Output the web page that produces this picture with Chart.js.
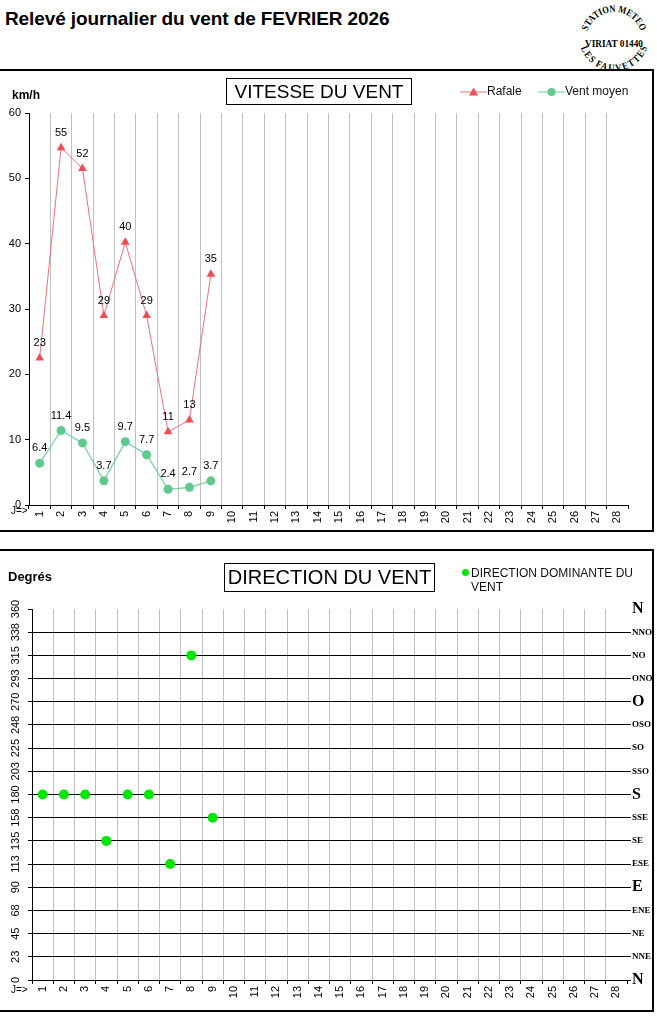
<!DOCTYPE html>
<html>
<head>
<meta charset="utf-8">
<script src="https://cdn.jsdelivr.net/npm/chart.js@4.4.1/dist/chart.umd.min.js"></script>
<style>
  html, body { margin: 0; padding: 0; background: #fff; }
  body { width: 657px; height: 1018px; position: relative; overflow: hidden; font-family: "Liberation Sans", Arial, sans-serif; }
  .abs { position: absolute; }
  .frame { position: absolute; border: 2px solid #000; box-sizing: border-box; }
  .tbox { position: absolute; border: 1px solid #000; box-sizing: border-box; text-align: center; color: #000; white-space: nowrap; }
  canvas { position: absolute; }
  .leg { position: absolute; font-size: 12px; color: #111; white-space: nowrap; }
</style>
</head>
<body>
<div class="abs" style="left:5px;top:8px;font-size:19px;font-weight:bold;letter-spacing:-0.1px;">Relevé journalier du vent de FEVRIER 2026</div>

<svg class="abs" style="left:570px;top:0px" width="87" height="80" viewBox="570 0 87 80">
  <defs>
    <path id="arcTop" d="M 586 40 A 28 28 0 0 1 642 40"/>
    <path id="arcBot" d="M 586 36 A 28 28 0 0 0 642 36"/>
  </defs>
  <text font-family="Liberation Serif" font-weight="bold" font-size="10" fill="#000">
    <textPath href="#arcTop" startOffset="50%" text-anchor="middle" textLength="70" lengthAdjust="spacingAndGlyphs">STATION METEO</textPath>
  </text>
  <text x="614" y="47" font-family="Liberation Serif" font-weight="bold" font-size="10" text-anchor="middle" textLength="58" lengthAdjust="spacingAndGlyphs" fill="#000">VIRIAT 01440</text>
  <text font-family="Liberation Serif" font-weight="bold" font-size="10" fill="#000">
    <textPath href="#arcBot" startOffset="50%" text-anchor="middle" dominant-baseline="hanging" textLength="70" lengthAdjust="spacingAndGlyphs">LES FAUVETTES</textPath>
  </text>
</svg>

<div class="frame" style="left:-2px;top:69px;width:656px;height:463px;"></div>
<div class="frame" style="left:-2px;top:549px;width:656px;height:463px;"></div>

<canvas id="speed" width="651" height="458" style="left:0;top:72px;"></canvas>
<canvas id="dir" width="657" height="457" style="left:0;top:552px;"></canvas>

<div class="abs" style="left:12px;top:88px;font-size:12px;font-weight:bold;">km/h</div>
<div class="tbox" style="left:226px;top:78px;width:186px;height:27px;font-size:19px;line-height:25px;">VITESSE DU VENT</div>
<div class="leg" style="left:460px;top:84px;">
  <svg width="27" height="10" style="vertical-align:middle"><line x1="0" y1="5" x2="27" y2="5" stroke="#ee7075" stroke-width="1"/><polygon points="13.5,0.5 18,8.5 9,8.5" fill="#ee4d57"/></svg>Rafale
</div>
<div class="leg" style="left:538px;top:84px;">
  <svg width="27" height="10" style="vertical-align:middle"><line x1="0" y1="5" x2="27" y2="5" stroke="#74cf9c" stroke-width="1"/><circle cx="13.5" cy="5" r="4" fill="#5fc88e"/></svg>Vent moyen
</div>
<div class="abs" style="left:11px;top:505px;font-size:10px;">J=&gt;</div>

<div class="abs" style="left:8px;top:569px;font-size:13px;font-weight:bold;">Degrés</div>
<div class="tbox" style="left:224px;top:563px;width:211px;height:29px;font-size:20px;line-height:27px;">DIRECTION DU VENT</div>
<div class="leg" style="left:462px;top:566px;line-height:14px;">
  <span style="display:inline-block;width:7px;height:7px;border-radius:50%;background:#00e600;margin-right:2px;vertical-align:1px"></span>DIRECTION DOMINANTE DU<br><span style="padding-left:9px">VENT</span>
</div>
<div class="abs" style="left:11px;top:984px;font-size:10px;">J=&gt;</div>

<script>
// jours du mois (axe X)
const days = ['1','2','3','4','5','6','7','8','9','10','11','12','13','14',
  '15','16','17','18','19','20','21','22','23','24','25','26','27','28'];

// vitesse du vent (km/h)
const rafale = [22.5, 54.7, 51.5, 29.0, 40.2, 29.0, 11.2, 13.0, 35.3];
const ventMoyen = [6.4, 11.4, 9.5, 3.7, 9.7, 7.7, 2.4, 2.7, 3.7];

// direction dominante (degrés)
const direction = [180, 180, 180, 135, 180, 180, 112.5, 315, 157.5];

// graduations
const degreLabels = ['0','23','45','68','90','113','135','158','180','203','225','248','270','293','315','338','360'];
const rose = ['N','NNE','NE','ENE','E','ESE','SE','SSE','S','SSO','SO','OSO','O','ONO','NO','NNO','N'];

const FONT = 'Liberation Sans';

// labels de valeur au-dessus des points
const valueLabels = {
  id: 'valueLabels',
  afterDatasetsDraw(chart) {
    const ctx = chart.ctx;
    ctx.save();
    ctx.font = `11px "${FONT}"`;
    ctx.fillStyle = '#000';
    ctx.textAlign = 'center';
    ctx.textBaseline = 'middle';
    chart.data.datasets.forEach((ds, i) => {
      if (!ds.showValues) return;
      chart.getDatasetMeta(i).data.forEach((pt, j) => {
        const v = ds.data[j];
        const txt = ds.showValues === 'int' ? String(Math.round(v)) : v.toFixed(1);
        ctx.fillText(txt, pt.x, pt.y - 15);
      });
    });
    ctx.restore();
  }
};

// labels verticaux de l'axe des degrés
const degreAxis = {
  id: 'degreAxis',
  afterDraw(chart) {
    const y = chart.scales.y;
    if (!chart.options.plugins.degreAxis) return;
    const ctx = chart.ctx;
    ctx.save();
    ctx.font = `11px "${FONT}"`;
    ctx.fillStyle = '#000';
    ctx.textAlign = 'center';
    ctx.textBaseline = 'middle';
    y.ticks.forEach((t, i) => {
      const py = y.getPixelForValue(t.value);
      ctx.save();
      ctx.translate(16, py);
      ctx.rotate(-Math.PI / 2);
      ctx.fillText(degreLabels[i], 0, 0);
      ctx.restore();
    });
    ctx.restore();
  }
};

function xScale(height) {
  return {
    type: 'category',
    offset: true,
    border: { color: '#000', width: 1 },
    grid: {
      offset: true,
      color: c => (c.type !== 'tick' || c.index === 0) ? 'rgba(0,0,0,0)' : '#c0c0c0',
      tickColor: '#000',
      tickLength: 4,
      lineWidth: 1
    },
    ticks: {
      autoSkip: false, minRotation: 90, maxRotation: 90, padding: 2,
      color: '#000', font: { family: FONT, size: 11 }
    },
    afterFit: s => { s.height = height; }
  };
}

new Chart(document.getElementById('speed'), {
  type: 'line',
  data: {
    labels: days,
    datasets: [
      {
        label: 'Rafale', data: rafale, showValues: 'int',
        borderColor: '#ee7075', borderWidth: 1,
        pointStyle: 'triangle', pointRadius: 5,
        pointBackgroundColor: '#ee4d57', pointBorderColor: '#ee4d57', pointBorderWidth: 0
      },
      {
        label: 'Vent moyen', data: ventMoyen, showValues: 'dec',
        borderColor: '#74cf9c', borderWidth: 1.2,
        pointStyle: 'circle', pointRadius: 4.5,
        pointBackgroundColor: '#5fc88e', pointBorderColor: '#5fc88e', pointBorderWidth: 0
      }
    ]
  },
  options: {
    responsive: false, animation: false,
    layout: { padding: { top: 41, right: 23, left: 0, bottom: 0 } },
    plugins: { legend: { display: false }, tooltip: { enabled: false } },
    scales: {
      x: xScale(25),
      y: {
        min: 0, max: 60,
        border: { color: '#000', width: 1 },
        grid: { drawOnChartArea: false, tickColor: '#000', tickLength: 4 },
        ticks: { stepSize: 10, padding: 4, color: '#000', font: { family: FONT, size: 11 } },
        afterFit: s => { s.width = 29; }
      }
    }
  },
  plugins: [valueLabels]
});

new Chart(document.getElementById('dir'), {
  type: 'line',
  data: {
    labels: days,
    datasets: [{
      label: 'DIRECTION DOMINANTE DU VENT', data: direction, showLine: false,
      pointStyle: 'circle', pointRadius: 5,
      pointBackgroundColor: '#00e600', pointBorderColor: '#00e600', pointBorderWidth: 0
    }]
  },
  options: {
    responsive: false, animation: false,
    layout: { padding: { top: 57, right: 0, left: 0, bottom: 0 } },
    plugins: { legend: { display: false }, tooltip: { enabled: false }, degreAxis: {} },
    scales: {
      x: xScale(29),
      y: {
        min: 0, max: 360,
        border: { color: '#000', width: 1 },
        grid: {
          color: c => (c.tick && c.tick.value === 360) ? 'rgba(0,0,0,0)' : '#000',
          tickColor: '#000', tickLength: 4, lineWidth: 1
        },
        ticks: { stepSize: 22.5, display: false },
        afterFit: s => { s.width = 32; }
      },
      y2: {
        position: 'right',
        min: 0, max: 360,
        border: { display: false },
        grid: {
          drawOnChartArea: false, tickLength: 4,
          tickColor: c => (c.tick && c.tick.value === 360) ? 'rgba(0,0,0,0)' : '#000'
        },
        ticks: {
          stepSize: 22.5, padding: 1, color: '#000',
          callback: (v, i) => rose[i],
          font: c => {
            const big = c.tick && ['N','E','S','O'].includes(rose[c.index]);
            return { family: 'Liberation Serif', weight: 'bold', size: big ? 16 : 9 };
          }
        },
        afterFit: s => { s.width = 30; }
      }
    }
  },
  plugins: [degreAxis]
});
</script>
</body>
</html>
